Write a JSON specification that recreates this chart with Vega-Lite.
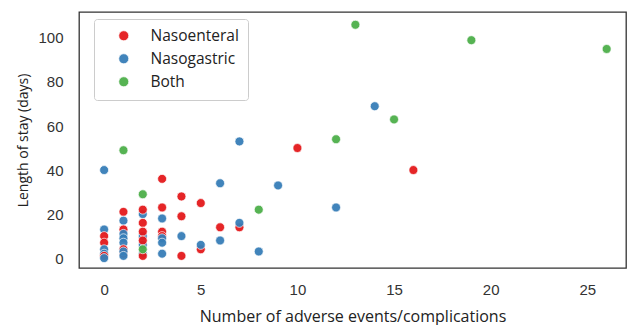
{
  "$schema": "https://vega.github.io/schema/vega-lite/v6.json",
  "width": 547,
  "height": 256,
  "autosize": "none",
  "padding": {"left": 79, "top": 12, "right": 4, "bottom": 57},
  "background": "white",
  "config": {
    "view": {"stroke": "#333", "strokeWidth": 1.3},
    "axis": {"grid": false, "domain": false, "ticks": false, "labelFont": "Liberation Sans", "labelFontSize": 15, "labelColor": "#333", "titleFont": "Open Sans", "titleFontWeight": "normal", "titleColor": "#222"}
  },
  "data": {"values": [
    {"events": 0, "los": 40, "type": "Nasogastric"},
    {"events": 0, "los": 13, "type": "Nasogastric"},
    {"events": 0, "los": 10, "type": "Nasoenteral"},
    {"events": 0, "los": 7, "type": "Nasoenteral"},
    {"events": 0, "los": 4, "type": "Nasogastric"},
    {"events": 0, "los": 2, "type": "Nasogastric"},
    {"events": 0, "los": 1, "type": "Nasoenteral"},
    {"events": 0, "los": 0, "type": "Nasogastric"},
    {"events": 1, "los": 49, "type": "Both"},
    {"events": 1, "los": 21, "type": "Nasoenteral"},
    {"events": 1, "los": 17, "type": "Nasogastric"},
    {"events": 1, "los": 13, "type": "Nasoenteral"},
    {"events": 1, "los": 11, "type": "Nasogastric"},
    {"events": 1, "los": 9, "type": "Nasogastric"},
    {"events": 1, "los": 7, "type": "Nasogastric"},
    {"events": 1, "los": 4, "type": "Nasoenteral"},
    {"events": 1, "los": 2, "type": "Nasoenteral"},
    {"events": 1, "los": 3, "type": "Nasogastric"},
    {"events": 1, "los": 1, "type": "Nasogastric"},
    {"events": 2, "los": 29, "type": "Both"},
    {"events": 2, "los": 20, "type": "Nasogastric"},
    {"events": 2, "los": 22, "type": "Nasoenteral"},
    {"events": 2, "los": 16, "type": "Nasoenteral"},
    {"events": 2, "los": 10, "type": "Nasogastric"},
    {"events": 2, "los": 12, "type": "Nasoenteral"},
    {"events": 2, "los": 6, "type": "Nasogastric"},
    {"events": 2, "los": 8, "type": "Nasoenteral"},
    {"events": 2, "los": 2, "type": "Nasogastric"},
    {"events": 2, "los": 1, "type": "Nasoenteral"},
    {"events": 2, "los": 4, "type": "Both"},
    {"events": 3, "los": 36, "type": "Nasoenteral"},
    {"events": 3, "los": 23, "type": "Nasoenteral"},
    {"events": 3, "los": 18, "type": "Nasogastric"},
    {"events": 3, "los": 12, "type": "Nasoenteral"},
    {"events": 3, "los": 10, "type": "Nasoenteral"},
    {"events": 3, "los": 9, "type": "Nasogastric"},
    {"events": 3, "los": 7, "type": "Nasogastric"},
    {"events": 3, "los": 2, "type": "Nasogastric"},
    {"events": 4, "los": 28, "type": "Nasoenteral"},
    {"events": 4, "los": 19, "type": "Nasoenteral"},
    {"events": 4, "los": 10, "type": "Nasogastric"},
    {"events": 4, "los": 1, "type": "Nasoenteral"},
    {"events": 5, "los": 25, "type": "Nasoenteral"},
    {"events": 5, "los": 4, "type": "Nasoenteral"},
    {"events": 5, "los": 6, "type": "Nasogastric"},
    {"events": 6, "los": 34, "type": "Nasogastric"},
    {"events": 6, "los": 14, "type": "Nasoenteral"},
    {"events": 6, "los": 8, "type": "Nasogastric"},
    {"events": 7, "los": 53, "type": "Nasogastric"},
    {"events": 7, "los": 14, "type": "Nasoenteral"},
    {"events": 7, "los": 16, "type": "Nasogastric"},
    {"events": 8, "los": 22, "type": "Both"},
    {"events": 8, "los": 3, "type": "Nasogastric"},
    {"events": 9, "los": 33, "type": "Nasogastric"},
    {"events": 10, "los": 50, "type": "Nasoenteral"},
    {"events": 12, "los": 54, "type": "Both"},
    {"events": 12, "los": 23, "type": "Nasogastric"},
    {"events": 13, "los": 106, "type": "Both"},
    {"events": 14, "los": 69, "type": "Nasogastric"},
    {"events": 15, "los": 63, "type": "Both"},
    {"events": 16, "los": 40, "type": "Nasoenteral"},
    {"events": 19, "los": 99, "type": "Both"},
    {"events": 26, "los": 95, "type": "Both"}
  ]},
  "mark": {"type": "point", "filled": true, "shape": "circle", "size": 80, "opacity": 0.95, "stroke": "white", "strokeWidth": 0.7},
  "encoding": {
    "x": {"field": "events", "type": "quantitative", "scale": {"domain": [-1.3, 27.0], "nice": false, "zero": false}, "axis": {"values": [0, 5, 10, 15, 20, 25], "labelPadding": 14, "title": "Number of adverse events/complications", "titleFontSize": 16, "titlePadding": 11}},
    "y": {"field": "los", "type": "quantitative", "scale": {"domain": [-4.5, 111.8], "nice": false, "zero": false}, "axis": {"values": [0, 20, 40, 60, 80, 100], "labelPadding": 16, "title": "Length of stay (days)", "titleFontSize": 14, "titlePadding": 7}},
    "color": {"field": "type", "type": "nominal", "scale": {"domain": ["Nasoenteral", "Nasogastric", "Both"], "range": ["#e41a1c", "#377eb8", "#4daf4a"]},
      "legend": {"title": null, "orient": "none", "legendX": 15, "legendY": 7, "padding": 9, "symbolOffset": 13, "symbolSize": 100, "symbolStrokeColor": "white", "symbolStrokeWidth": 0.7, "labelOffset": 19, "labelFont": "Open Sans", "labelFontSize": 15.5, "labelColor": "#222", "rowPadding": 6, "strokeColor": "#ccc", "fillColor": "white", "cornerRadius": 3}}
  }
}
